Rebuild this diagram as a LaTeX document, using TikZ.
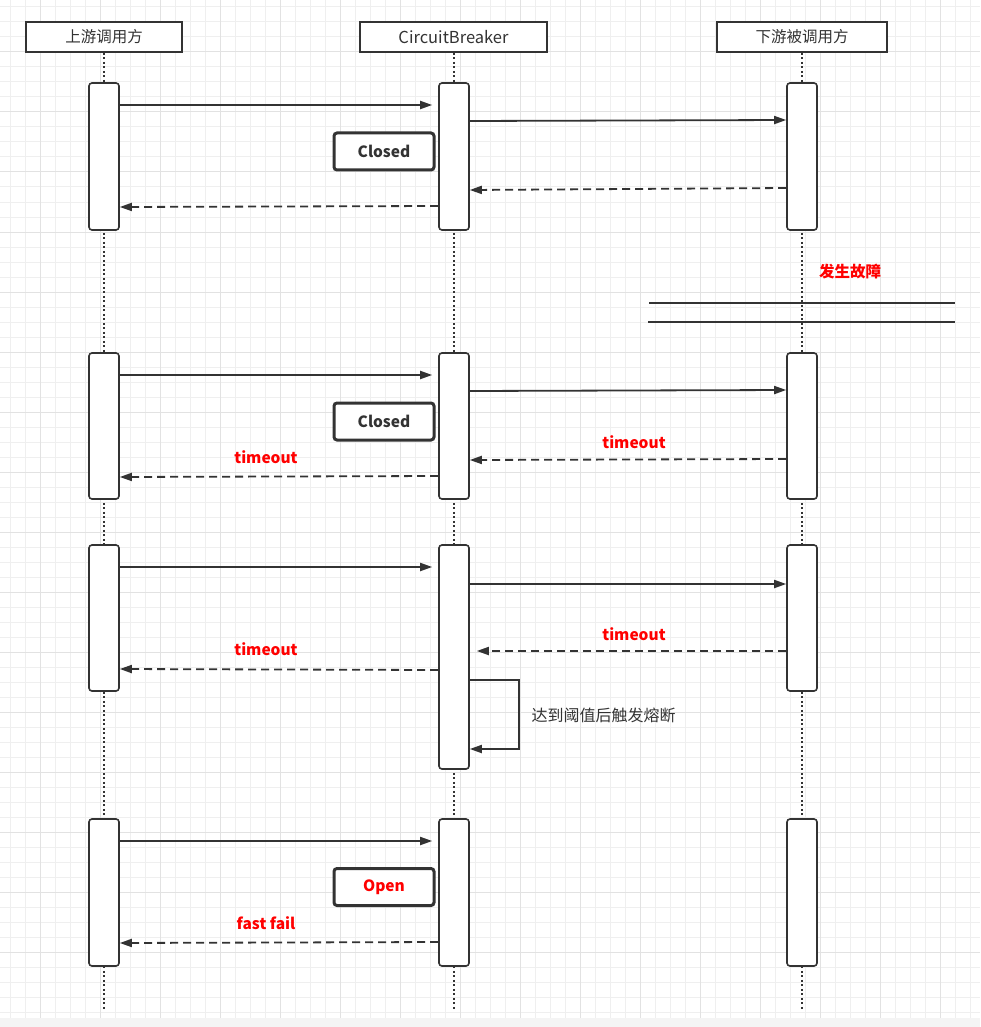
\documentclass[tikz,border=0pt]{standalone}
\usepackage{fontspec}
\setmainfont{Noto Sans CJK SC}
\usetikzlibrary{arrows.meta}

\definecolor{ink}{HTML}{333333}
\definecolor{alert}{HTML}{FF0000}
\definecolor{gridminor}{HTML}{EFEFEF}
\definecolor{gridmajor}{HTML}{E2E2E2}

\tikzset{
  head/.style={draw=ink, line width=1.8pt, fill=white, minimum width=#1, minimum height=30pt, inner sep=0pt, font=\fontsize{15.5}{17}\selectfont, text=ink},
  act/.style={draw=ink, line width=1.6pt, fill=white, rounded corners=3pt, minimum width=30pt, minimum height=#1, inner sep=0pt},
  state/.style={draw=ink, line width=3pt, fill=white, rounded corners=3pt, minimum width=100pt, minimum height=37pt, inner sep=0pt, font=\fontsize{15.5}{17}\selectfont\bfseries},
  life/.style={ink, line width=2pt, dash pattern=on 2pt off 2.5pt},
  call/.style={ink, line width=1.8pt, -{Triangle[length=12pt,width=8pt]}},
  reply/.style={call, dash pattern=on 8pt off 5pt},
  redlabel/.style={text=alert, font=\fontsize{15.5}{17}\selectfont\bfseries},
}

\begin{document}
\begin{tikzpicture}[x=1pt,y=-1pt]
\useasboundingbox (0,0) rectangle (980,1027);

% Griglia di sfondo
\fill[white] (0,0) rectangle (980,1018);
\foreach \gx in {10,25,...,970} \draw[gridminor, line width=1pt] (\gx,0) -- (\gx,1018);
\foreach \gy in {7,22,...,1012} \draw[gridminor, line width=1pt] (0,\gy) -- (980,\gy);
\foreach \gx in {40,100,...,940} \draw[gridmajor, line width=1pt] (\gx,0) -- (\gx,1018);
\foreach \gy in {52,112,...,1000} \draw[gridmajor, line width=1pt] (0,\gy) -- (980,\gy);
\fill[gridminor!70] (0,1018) rectangle (980,1027);

% Partecipanti
\node[head=156pt] (up) at (104,37) {上游调用方};
\node[head=187pt, font=\fontsize{16.5}{18}\selectfont] (cb) at (453.5,37) {CircuitBreaker};
\node[head=170pt] (down) at (802,37) {下游被调用方};

% Linee di vita
\draw[life] (up.south) -- (up.south |- 0,1010);
\draw[life] (cb.south) -- (cb.south |- 0,1010);
\draw[life] (down.south) -- (down.south |- 0,1010);

% Barre di attivazione
\node[act=147pt] (a1) at (104,156.5) {};
\node[act=146pt] (a2) at (104,426) {};
\node[act=146pt] (a3) at (104,618) {};
\node[act=147pt] (a4) at (104,892.5) {};
\node[act=147pt] (b1) at (454,156.5) {};
\node[act=146pt] (b2) at (454,426) {};
\node[act=224pt] (b3) at (454,657) {};
\node[act=147pt] (b4) at (454,892.5) {};
\node[act=147pt] (c1) at (802,156.5) {};
\node[act=146pt] (c2) at (802,426) {};
\node[act=146pt] (c3) at (802,618) {};
\node[act=147pt] (c4) at (802,892.5) {};

% Stati
\node[state, text=ink] (st1) at (384,151.5) {Closed};
\node[state, text=ink] (st2) at (384,421.5) {Closed};
\node[state, text=alert] (st3) at (384,887) {Open};

% Prima chiamata
\draw[call, shorten >=6pt] (a1.east |- 0,105) -- (b1.west |- 0,105);
\draw[call] (b1.east |- 0,121) -- (c1.west |- 0,120);
\draw[reply] (c1.west |- 0,188) -- (b1.east |- 0,190);
\draw[reply] (b1.west |- 0,206) -- (a1.east |- 0,207);

% Guasto
\node[redlabel] (fault) at (850,272) {发生故障};
\draw[ink, line width=1.8pt] (649,303) -- (955,303);
\draw[ink, line width=1.8pt] (648,322) -- (955,322);

% Seconda chiamata
\draw[call, shorten >=6pt] (a2.east |- 0,375) -- (b2.west |- 0,375);
\draw[call] (b2.east |- 0,391) -- (c2.west |- 0,390);
\draw[reply] (c2.west |- 0,459) -- (b2.east |- 0,460);
\draw[reply] (b2.west |- 0,476) -- (a2.east |- 0,477);
\node[redlabel] (to1) at (634,442) {timeout};
\node[redlabel] (to2) at (266,457) {timeout};

% Terza chiamata
\draw[call, shorten >=6pt] (a3.east |- 0,567) -- (b3.west |- 0,567);
\draw[call] (b3.east |- 0,584) -- (c3.west |- 0,584);
\draw[reply, shorten >=7pt] (c3.west |- 0,651) -- (b3.east |- 0,651);
\draw[reply] (b3.west |- 0,670) -- (a3.east |- 0,669);
\node[redlabel] (to3) at (634,634) {timeout};
\node[redlabel] (to4) at (266,649) {timeout};
\coordinate (loopa) at (519,680);
\coordinate (loopb) at (519,749);
\draw[call] (b3.east |- loopa) -- (loopa) -- (loopb) -- (b3.east |- loopb);
\node[anchor=west, text=ink, font=\fontsize{16}{18}\selectfont] (trip) at (528,715) {达到阈值后触发熔断};

% Quarta chiamata
\draw[call, shorten >=6pt] (a4.east |- 0,841) -- (b4.west |- 0,841);
\draw[reply] (b4.west |- 0,942) -- (a4.east |- 0,943);
\node[redlabel] (ff) at (266,923) {fast fail};
\end{tikzpicture}
\end{document}
